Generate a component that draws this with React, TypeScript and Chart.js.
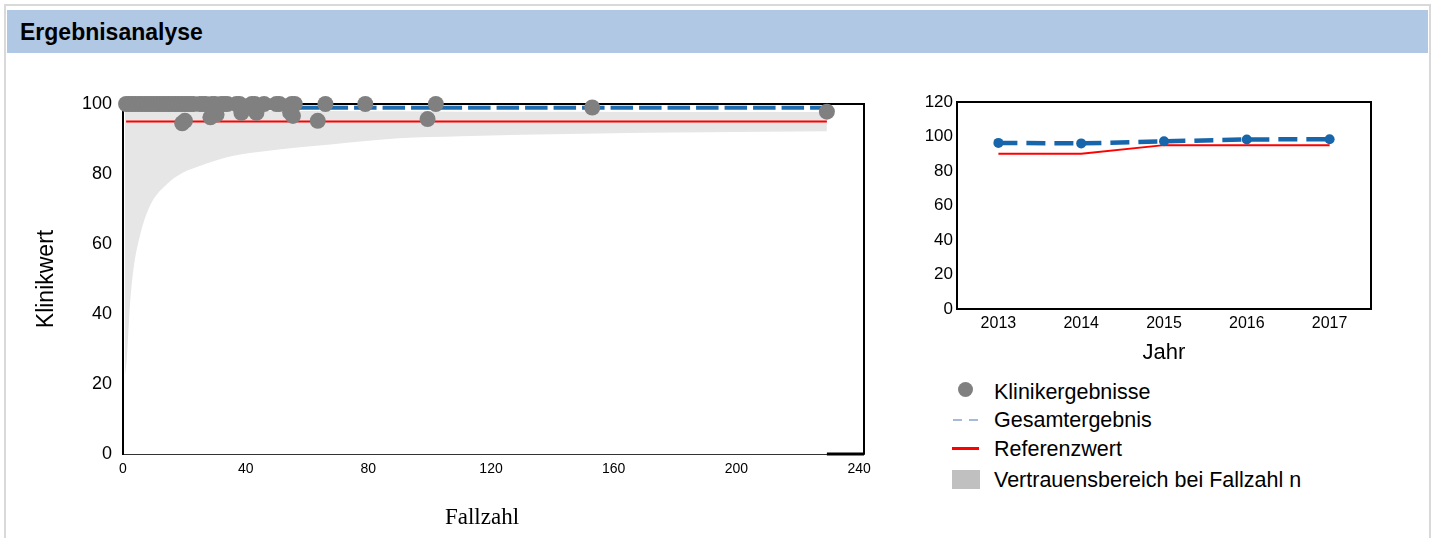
import React, { useEffect, useRef } from "react";
import { Chart, registerables } from "chart.js";

Chart.register(...registerables);

const SANS = "'Liberation Sans', Arial, sans-serif";
const SERIF = "'Liberation Serif', 'Times New Roman', serif";

// ---------- Left chart (Fallzahl vs Klinikwert) ----------
const clinicN = [
  1, 2, 3, 4, 5, 6, 7, 8, 9, 10, 11, 12, 13, 14, 15, 16, 17, 18, 19, 20, 21, 22, 23, 25, 26, 27, 29, 30, 32, 33,
  34, 37, 38, 42, 43, 46, 50, 51, 55, 56, 66, 79, 102,
  19.3, 20.2, 28.5, 30.5, 38.6, 43.5, 54.5, 55.4, 63.5, 99.3, 153, 229.5,
];
const clinicValue = [
  100, 100, 100, 100, 100, 100, 100, 100, 100, 100, 100, 100, 100, 100, 100, 100, 100, 100, 100, 100, 100, 100, 100,
  100, 100, 100, 100, 100, 100, 100, 100, 100, 100, 100, 100, 100, 100, 100, 100, 100, 100, 100, 100,
  94.5, 95.2, 96.2, 97.0, 97.5, 97.5, 97.6, 96.6, 95.2, 95.7, 99.0, 97.8,
];
const bandN = [0.6, 1.2, 2.3, 3.4, 5.5, 8.8, 14.2, 19.6, 25, 36, 46.8, 68.5, 90, 110, 150, 190, 229.5];
const bandLower = [22, 27, 43, 52.7, 62.3, 70.9, 77, 80.4, 82.3, 85.2, 86.6, 88.5, 90.2, 90.8, 91.5, 91.9, 92.2];
const bandUpper = [100, 99.9, 99.8, 99.7, 99.5, 99.2, 98.9, 98.6, 98.4, 98.2, 98.1, 98.0, 97.9, 97.8, 97.8, 97.7, 97.7];
const overallN = [1, 229];
const overallValue = [98.9, 98.9];
const referenceN = [1, 229.5];
const referenceValue = [95, 95];
const fallzahlTicks = [0, 40, 80, 120, 160, 200, 240];
const klinikwertTicks = [0, 20, 40, 60, 80, 100];

// ---------- Right chart (Jahr) ----------
const years = ["2013", "2014", "2015", "2016", "2017"];
const yearOverall = [96.3, 96.0, 97.2, 98.3, 98.4];
const yearReference = [90, 90, 95, 95, 95];
const yearTicks = [0, 20, 40, 60, 80, 100, 120];

// ---------- Legend ----------
const legendLabels = ["Klinikergebnisse", "Gesamtergebnis", "Referenzwert", "Vertrauensbereich bei Fallzahl n"];

const toXY = (xs: number[], ys: number[]) => xs.map((x, i) => ({ x, y: ys[i] }));

const leftFrame = {
  id: "leftFrame",
  beforeDatasetsDraw(chart: any) {
    const { ctx, chartArea } = chart;
    const { left, right, top, bottom } = chartArea;
    ctx.save();
    ctx.strokeStyle = "#000";
    ctx.lineWidth = 2;
    ctx.beginPath();
    ctx.moveTo(left, top);
    ctx.lineTo(right, top);
    ctx.lineTo(right, bottom);
    ctx.stroke();
    const xs = chart.scales.x;
    const startX = xs.getPixelForValue(bandN[bandN.length - 1]);
    ctx.lineWidth = 3;
    ctx.beginPath();
    ctx.moveTo(startX, bottom);
    ctx.lineTo(right, bottom);
    ctx.stroke();
    ctx.restore();
  },
};

const rightFrame = {
  id: "rightFrame",
  beforeDatasetsDraw(chart: any) {
    const { ctx, chartArea } = chart;
    ctx.save();
    ctx.strokeStyle = "#000";
    ctx.lineWidth = 2;
    ctx.strokeRect(chartArea.left, chartArea.top, chartArea.right - chartArea.left, chartArea.bottom - chartArea.top);
    ctx.restore();
  },
};

export default function App() {
  const leftRef = useRef<HTMLCanvasElement | null>(null);
  const rightRef = useRef<HTMLCanvasElement | null>(null);

  useEffect(() => {
    const left = new Chart(leftRef.current as HTMLCanvasElement, {
      type: "scatter",
      data: {
        datasets: [
          {
            label: legendLabels[0],
            data: toXY(clinicN, clinicValue),
            backgroundColor: "#808080",
            borderWidth: 0,
            pointRadius: 8,
            clip: false,
          } as any,
          {
            type: "line",
            label: legendLabels[1],
            data: toXY(overallN, overallValue),
            borderColor: "#1f6db1",
            borderWidth: 4,
            borderDash: [22.5, 6],
            pointRadius: 0,
            fill: false,
          } as any,
          {
            type: "line",
            label: legendLabels[2],
            data: toXY(referenceN, referenceValue),
            borderColor: "#ff0000",
            borderWidth: 2,
            pointRadius: 0,
            fill: false,
          } as any,
          {
            type: "line",
            label: "upper",
            data: toXY(bandN, bandUpper),
            borderWidth: 0,
            borderColor: "rgba(0,0,0,0)",
            pointRadius: 0,
            cubicInterpolationMode: "monotone",
            fill: false,
          } as any,
          {
            type: "line",
            label: legendLabels[3],
            data: toXY(bandN, bandLower),
            borderWidth: 0,
            borderColor: "rgba(0,0,0,0)",
            backgroundColor: "#e6e6e6",
            pointRadius: 0,
            cubicInterpolationMode: "monotone",
            fill: "-1",
          } as any,
        ],
      },
      options: {
        animation: false,
        responsive: false,
        events: [],
        layout: { padding: { left: 29, top: 104, right: 36, bottom: 4 } },
        plugins: { legend: { display: false }, tooltip: { enabled: false } },
        scales: {
          x: {
            type: "linear",
            min: 0,
            max: 241.6,
            afterFit: (s: any) => {
              s.height = 80;
            },
            afterBuildTicks: (s: any) => {
              s.ticks = fallzahlTicks.map((v) => ({ value: v }));
            },
            grid: { display: false, drawTicks: false },
            border: { display: true, color: "#333", width: 1 },
            ticks: {
              color: "#000",
              padding: 7,
              maxRotation: 0,
              autoSkip: false,
              font: { family: "'Liberation Sans Narrow', 'Arial Narrow', " + SANS, size: 14 },
            },
          },
          y: {
            type: "linear",
            min: 0,
            max: 100,
            afterFit: (s: any) => {
              s.width = 94;
            },
            afterBuildTicks: (s: any) => {
              s.ticks = klinikwertTicks.map((v) => ({ value: v }));
            },
            grid: { display: false, drawTicks: false },
            border: { display: true, color: "#000", width: 2 },
            ticks: { color: "#000", padding: 11, font: { family: SANS, size: 18 } },
            title: {
              display: true,
              text: "Klinikwert",
              color: "#000",
              padding: { top: 4, bottom: 0 },
              font: { family: SANS, size: 23 },
            },
          },
        },
      },
      plugins: [leftFrame],
    } as any);

    const right = new Chart(rightRef.current as HTMLCanvasElement, {
      type: "line",
      data: {
        labels: years,
        datasets: [
          {
            label: legendLabels[1],
            data: yearOverall,
            borderColor: "#1765aa",
            backgroundColor: "#1765aa",
            borderWidth: 4.5,
            borderDash: [19, 9],
            pointRadius: 5,
            pointBorderWidth: 0,
            fill: false,
          },
          {
            label: legendLabels[2],
            data: yearReference,
            borderColor: "#ff0000",
            borderWidth: 2,
            pointRadius: 0,
            fill: false,
          },
        ],
      },
      options: {
        animation: false,
        responsive: false,
        events: [],
        layout: { padding: { left: 0, top: 42, right: 29, bottom: 10 } },
        plugins: { legend: { display: false }, tooltip: { enabled: false } },
        scales: {
          x: {
            offset: true,
            afterFit: (s: any) => {
              s.height = 61;
            },
            grid: { display: false, drawTicks: false },
            border: { display: false },
            ticks: { color: "#000", padding: 5, maxRotation: 0, font: { family: SANS, size: 16 } },
            title: {
              display: true,
              text: "Jahr",
              color: "#000",
              padding: { top: 0, bottom: 4 },
              font: { family: SANS, size: 22 },
            },
          },
          y: {
            min: 0,
            max: 120,
            afterFit: (s: any) => {
              s.width = 57;
            },
            afterBuildTicks: (s: any) => {
              s.ticks = yearTicks.map((v) => ({ value: v }));
            },
            grid: { display: false, drawTicks: false },
            border: { display: false },
            ticks: { color: "#000", padding: 4, font: { family: SANS, size: 17 } },
          },
        },
      },
      plugins: [rightFrame],
    } as any);

    return () => {
      left.destroy();
      right.destroy();
    };
  }, []);

  const legendText: React.CSSProperties = {
    position: "absolute",
    left: 994,
    fontFamily: SANS,
    fontSize: 21.5,
    color: "#000",
    lineHeight: "24px",
    whiteSpace: "nowrap",
  };

  return (
    <div style={{ position: "absolute", left: 0, top: 0, width: 1436, height: 538, overflow: "hidden", background: "#fff" }}>
      <div
        style={{
          position: "absolute",
          left: 4,
          top: 4,
          width: 1427,
          height: 560,
          border: "2px solid #d9d9d9",
          boxSizing: "border-box",
        }}
      />
      <div
        style={{
          position: "absolute",
          left: 7,
          top: 10,
          width: 1421,
          height: 43,
          background: "#b0c8e4",
        }}
      >
        <div
          style={{
            position: "absolute",
            left: 13,
            top: 1,
            lineHeight: "43px",
            fontFamily: SANS,
            fontWeight: "bold",
            fontSize: 23,
            color: "#000",
          }}
        >
          Ergebnisanalyse
        </div>
      </div>

      <div style={{ position: "absolute", left: 0, top: 0, width: 900, height: 538 }}>
        <canvas ref={leftRef} width={900} height={538} style={{ width: 900, height: 538, display: "block" }} />
      </div>

      <div
        style={{
          position: "absolute",
          left: 382,
          width: 200,
          top: 504,
          textAlign: "center",
          lineHeight: "26px",
          fontFamily: SERIF,
          fontSize: 23,
          color: "#000",
        }}
      >
        Fallzahl
      </div>

      <div style={{ position: "absolute", left: 900, top: 60, width: 500, height: 320 }}>
        <canvas ref={rightRef} width={500} height={320} style={{ width: 500, height: 320, display: "block" }} />
      </div>

      {/* Legend */}
      <div
        style={{
          position: "absolute",
          left: 958,
          top: 382,
          width: 15,
          height: 15,
          borderRadius: "50%",
          background: "#808080",
        }}
      />
      <div style={{ ...legendText, top: 380 }}>{legendLabels[0]}</div>

      <div style={{ position: "absolute", left: 953, top: 419, width: 9, height: 2, background: "#a4bad8" }} />
      <div style={{ position: "absolute", left: 969, top: 419, width: 9, height: 2, background: "#a4bad8" }} />
      <div style={{ ...legendText, top: 408 }}>{legendLabels[1]}</div>

      <div style={{ position: "absolute", left: 952, top: 447, width: 27, height: 3, background: "#ff0000" }} />
      <div style={{ ...legendText, top: 437 }}>{legendLabels[2]}</div>

      <div style={{ position: "absolute", left: 952, top: 470, width: 28, height: 19, background: "#c0c0c0" }} />
      <div style={{ ...legendText, top: 468 }}>{legendLabels[3]}</div>
    </div>
  );
}
